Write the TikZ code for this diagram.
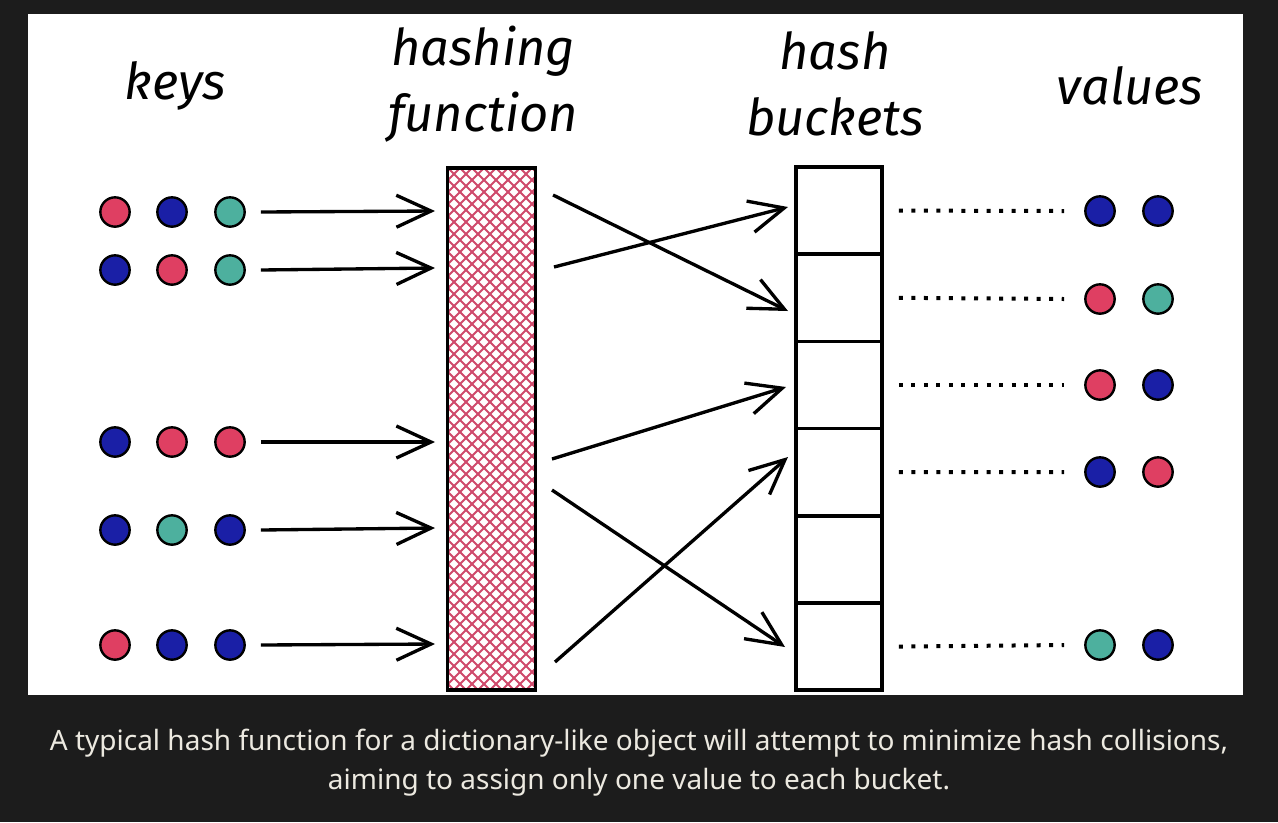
\documentclass[tikz,border=0pt]{standalone}
\usepackage{fontspec}
\setmainfont{Fira Sans}
\newfontfamily\capfont{Noto Sans}
\usetikzlibrary{arrows.meta}
\definecolor{bgdark}{HTML}{1C1C1C}
\definecolor{capcol}{HTML}{ECE9E0}
\definecolor{kred}{HTML}{DF3F62}
\definecolor{kblue}{HTML}{1A1FA6}
\definecolor{kteal}{HTML}{4DB09E}
\definecolor{hatchcol}{HTML}{CF4A6C}
\tikzset{
  dotbase/.style={circle, draw=black, line width=1.8pt, inner sep=0pt, minimum size=22pt},
  rd/.style={dotbase, fill=kred},
  bl/.style={dotbase, fill=kblue},
  tl/.style={dotbase, fill=kteal},
  title/.style={font=\fontsize{38}{50}\selectfont\itshape, align=center, text=black},
  arr/.style={line width=2.5pt, -{Straight Barb[length=26pt,width=24pt,line width=2.5pt]}},
  bucket/.style={draw=black, line width=2.7pt, minimum width=64.5pt, minimum height=65.4pt, inner sep=0pt},
  hbox/.style={draw=black, line width=2.8pt, minimum width=66pt, minimum height=391.5pt, inner sep=0pt},
  dotline/.style={line width=3pt, dash pattern=on 3pt off 6.4pt},
  captext/.style={font=\capfont\fontsize{21}{25}\selectfont, text=capcol, anchor=base}
}
\begin{document}
\begin{tikzpicture}[x=0.75pt, y=-0.75pt]
\useasboundingbox (0,0) rectangle (1278,822);
\fill[bgdark] (0,0) rectangle (1278,822);
\fill[white] (28,14) rectangle (1243,695);

% titles
\node[title] (tkeys) at (175,86) {keys};
\node[title] (thash) at (483,84) {hashing\\function};
\node[title] (tbuck) at (835,84) {hash\\buckets};
\node[title] (tvals) at (1130,86) {values};

% hashing function box with hatch
\begin{scope}
  \clip (448,168) rectangle (535,690);
  \foreach \x in {-560,-548,...,560} {
    \draw[hatchcol, line width=1.5pt] (\x,168) -- ++(540,540);
    \draw[hatchcol, line width=1.5pt] (\x+540,168) -- ++(-540,540);
  }
\end{scope}
\node[hbox] (hf) at (491.5,429) {};

% buckets
\foreach \i/\y in {1/210.6,2/297.8,3/385,4/472.2,5/559.4,6/646.6}
  \node[bucket] (b\i) at (839,\y) {};

% keys
\node[rd] (k11) at (115,212) {}; \node[bl] (k12) at (172,212) {}; \node[tl] (k13) at (230,212) {};
\node[bl] (k21) at (115,270) {}; \node[rd] (k22) at (172,270) {}; \node[tl] (k23) at (230,270) {};
\node[bl] (k31) at (115,442) {}; \node[rd] (k32) at (172,442) {}; \node[rd] (k33) at (230,442) {};
\node[bl] (k41) at (115,530) {}; \node[tl] (k42) at (172,530) {}; \node[bl] (k43) at (230,530) {};
\node[rd] (k51) at (115,645) {}; \node[bl] (k52) at (172,645) {}; \node[bl] (k53) at (230,645) {};

% arrow targets on the hashing box
\foreach \i/\y in {1/211,2/268,3/442,4/528,5/644}
  \coordinate (h\i) at (435,\y);
\draw[arr] (k13.east) ++(15,0) coordinate (s1) (s1) -- (h1);
\draw[arr] (k23.east) ++(15,0) coordinate (s2) (s2) -- (h2);
\draw[arr] (k33.east) ++(15,0) coordinate (s3) (s3) -- (h3);
\draw[arr] (k43.east) ++(15,0) coordinate (s4) (s4) -- (h4);
\draw[arr] (k53.east) ++(15,0) coordinate (s5) (s5) -- (h5);

% hashing to buckets
\coordinate (o1) at (553,195);
\coordinate (o2) at (554,267);
\coordinate (o3) at (552,459);
\coordinate (o4) at (552,490);
\coordinate (o5) at (555,662);
\coordinate (e1) at (788,311);
\coordinate (e2) at (788,207);
\coordinate (e3) at (786,387);
\coordinate (e4) at (785,647);
\coordinate (e5) at (788,457);
\draw[arr] (o1) -- (e1);
\draw[arr] (o2) -- (e2);
\draw[arr] (o3) -- (e3);
\draw[arr] (o4) -- (e4);
\draw[arr] (o5) -- (e5);

% values
\node[bl] (v11) at (1100,211) {}; \node[bl] (v12) at (1158,211) {};
\node[rd] (v21) at (1100,299) {}; \node[tl] (v22) at (1158,299) {};
\node[rd] (v31) at (1100,385) {}; \node[bl] (v32) at (1158,385) {};
\node[bl] (v41) at (1100,472) {}; \node[rd] (v42) at (1158,472) {};
\node[tl] (v51) at (1100,645) {}; \node[bl] (v52) at (1158,645) {};

% dotted lines
\draw[dotline] ([xshift=15*0.75pt]b1.east) -- ([xshift=-20*0.75pt]v11.west);
\draw[dotline] ([xshift=15*0.75pt]b2.east) -- ([xshift=-20*0.75pt]v21.west);
\draw[dotline] ([xshift=15*0.75pt]b3.east) -- ([xshift=-20*0.75pt]v31.west);
\draw[dotline] ([xshift=15*0.75pt]b4.east) -- ([xshift=-20*0.75pt]v41.west);
\draw[dotline] ([xshift=15*0.75pt]b6.east) -- ([xshift=-20*0.75pt]v51.west);

% caption
\node[captext] (c1) at (639,750) {A typical hash function for a dictionary-like object will attempt to minimize hash collisions,};
\node[captext] (c2) at (639,789) {aiming to assign only one value to each bucket.};
\end{tikzpicture}
\end{document}
